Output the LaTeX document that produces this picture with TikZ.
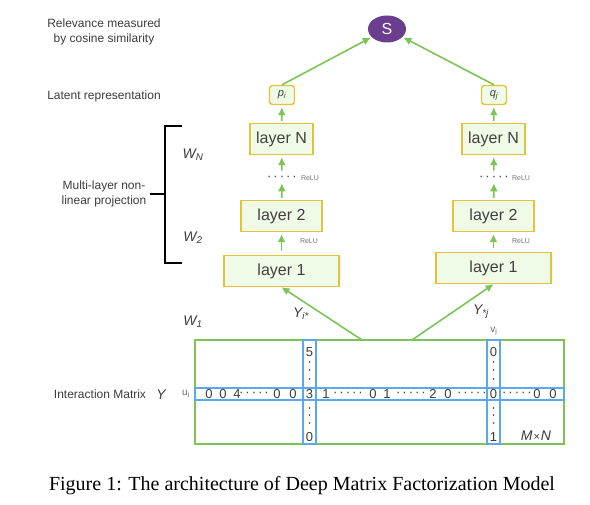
\documentclass[tikz,border=0pt]{standalone}
\usepackage{fontspec}
\setmainfont{Liberation Sans}
\newfontfamily\capfont{Liberation Serif}
\usetikzlibrary{shapes.geometric, arrows.meta}
\definecolor{linegreen}{HTML}{7CC457}
\definecolor{boxyellow}{HTML}{E3C33A}
\definecolor{boxfill}{HTML}{EFFAE7}
\definecolor{rowblue}{HTML}{5AA8EF}
\definecolor{spurple}{HTML}{6B3D8E}
\definecolor{labelgray}{HTML}{3C3C3C}
\newcommand{\fivedots}{·\kern2pt·\kern2pt·\kern2pt·\kern2pt·}
\tikzstyle{layer} = [rectangle, draw=boxyellow, line width=1.4pt, fill=boxfill, minimum height=31pt, inner sep=0pt, text=black!75, font=\fontsize{16}{18}\selectfont]
\tikzstyle{latent} = [rectangle, rounded corners=3pt, draw=boxyellow, line width=1.4pt, fill=boxfill, minimum width=25pt, minimum height=19pt, inner sep=0pt, text=black!75, font=\itshape\fontsize{11}{13}\selectfont]
\tikzstyle{score} = [ellipse, fill=spurple, minimum width=38pt, minimum height=27pt, inner sep=0pt, text=white, font=\fontsize{16}{18}\selectfont]
\tikzstyle{arrow} = [line width=1.6pt, draw=linegreen, -{Latex[length=8pt,width=8pt]}]
\tikzstyle{lbl} = [text=labelgray, font=\fontsize{12}{15}\selectfont, align=center]
\tikzstyle{wlbl} = [text=labelgray, font=\itshape\fontsize{14}{16}\selectfont]
\tikzstyle{relu} = [text=black!55, font=\fontsize{7}{8}\selectfont]
\tikzstyle{entry} = [text=labelgray, font=\fontsize{13}{15}\selectfont, inner sep=0pt]
\tikzstyle{band} = [draw=rowblue, line width=1.5pt]
\begin{document}
\begin{tikzpicture}[x=1pt, y=-1pt]
    \useasboundingbox (0,0) rectangle (590,505);

    % left labels
    \node (relevance) [lbl] at (104,32) {Relevance measured\\by cosine similarity};
    \node (latentlbl) [lbl] at (104,96) {Latent representation};
    \node (mlp) [lbl] at (104,194) {Multi-layer non-\\linear projection};
    \node (interlbl) [lbl] at (100,394) {Interaction Matrix};
    \node (ylbl) [wlbl] at (161,395) {Y};
    \node (wn) [wlbl] at (193,155) {W\textsubscript{N}};
    \node (wtwo) [wlbl] at (193,238) {W\textsubscript{2}};
    \node (wone) [wlbl] at (193,322) {W\textsubscript{1}};

    % bracket
    \coordinate (brmid) at (165,194);
    \draw [line width=1.3pt] (182,126) -- (165,126) -- (165,263) -- (182,263);
    \draw [line width=1.3pt] (mlp.east) -- (brmid);

    % score
    \node (score) [score] at (387,29) {S};

    % user tower
    \node (pi) [latent] at (282,95) {p\textsubscript{i}};
    \node (ulayerN) [layer, minimum width=63pt] at (281.5,139) {layer N};
    \node (udots) [entry] at (282,178) {\fivedots};
    \node (urelua) [relu] at (310,178) {ReLU};
    \node (ulayertwo) [layer, minimum width=81pt] at (281.5,216) {layer 2};
    \node (urelub) [relu] at (309,241) {ReLU};
    \node (ulayerone) [layer, minimum width=115pt] at (281.5,271) {layer 1};

    % item tower
    \node (qj) [latent] at (494,95) {q\textsubscript{j}};
    \node (ilayerN) [layer, minimum width=63pt] at (493.5,139) {layer N};
    \node (idots) [entry] at (494,178) {\fivedots};
    \node (irelua) [relu] at (521,178) {ReLU};
    \node (ilayertwo) [layer, minimum width=81pt] at (493.5,216) {layer 2};
    \node (irelub) [relu] at (521,241) {ReLU};
    \node (ilayerone) [layer, minimum width=115pt] at (493.5,268) {layer 1};

    % interaction matrix
    \node (ymat) [draw=linegreen, line width=1.4pt, minimum width=369pt, minimum height=104pt, inner sep=0pt] at (379.5,392) {};
    \draw [band] (195,388) rectangle (564,400);
    \draw [band] (303,340) rectangle (316,444);
    \draw [band] (487,340) rectangle (500,444);
    \node (ui) [text=black!60, font=\fontsize{10}{12}\selectfont] at (186,394) {u\textsubscript{i}};
    \node (vj) [text=black!60, font=\fontsize{10}{12}\selectfont] at (494,331) {v\textsubscript{j}};
    \node (mxn) [wlbl] at (536,436) {M\kern1pt{\upshape\fontsize{11}{13}\selectfont ×}\kern1pt N};

    \foreach \x/\t [count=\k] in {209/0, 223/0, 237/4, 254/\fivedots, 277/0, 293/0, 309.5/3, 326/1, 348/\fivedots, 373/0, 387/1, 411/\fivedots, 433/2, 448/0, 472/\fivedots, 493.5/0, 517/\fivedots, 537/0, 553/0}
        \node (row\k) [entry] at (\x,394) {\t};
    \node (coliA) [entry] at (309.5,352) {5};
    \node (coliB) [entry] at (309.5,437) {0};
    \node (coljA) [entry] at (493.5,352) {0};
    \node (coljB) [entry] at (493.5,437) {1};
    \foreach \y in {362,370,379,408,415,423} {
        \fill [labelgray] (309.5,\y) circle (0.9pt);
        \fill [labelgray] (493.5,\y) circle (0.9pt);
    }

    % connectors
    \coordinate (rowsrc) at (362,340);
    \coordinate (colsrc) at (412,340);
    \draw [arrow] (rowsrc) -- (ulayerone.south);
    \draw [arrow] (colsrc) -- (ilayerone.south);
    \node (yrow) [wlbl] at (301,314) {Y\textsubscript{i*}};
    \node (ycol) [wlbl] at (481,312) {Y\textsubscript{*j}};

    \draw [arrow, shorten <=4pt, shorten >=2pt] (ulayerone) -- (ulayertwo);
    \draw [arrow, shorten <=2pt, shorten >=3pt] (ulayertwo) -- (udots);
    \draw [arrow, shorten <=5pt, shorten >=2pt] (udots) -- (ulayerN);
    \draw [arrow, shorten <=2pt, shorten >=2pt] (ulayerN) -- (pi);
    \draw [arrow, shorten <=4pt, shorten >=2pt] (ilayerone) -- (ilayertwo);
    \draw [arrow, shorten <=2pt, shorten >=3pt] (ilayertwo) -- (idots);
    \draw [arrow, shorten <=5pt, shorten >=2pt] (idots) -- (ilayerN);
    \draw [arrow, shorten <=2pt, shorten >=2pt] (ilayerN) -- (qj);
    \draw [arrow, shorten >=1pt] (pi.north) -- (score);
    \draw [arrow, shorten >=1pt] (qj.north) -- (score);

    % caption
    \node (caption) [font=\capfont\fontsize{20}{23}\selectfont] at (302,486) {Figure 1: The architecture of Deep Matrix Factorization Model};
\end{tikzpicture}
\end{document}
